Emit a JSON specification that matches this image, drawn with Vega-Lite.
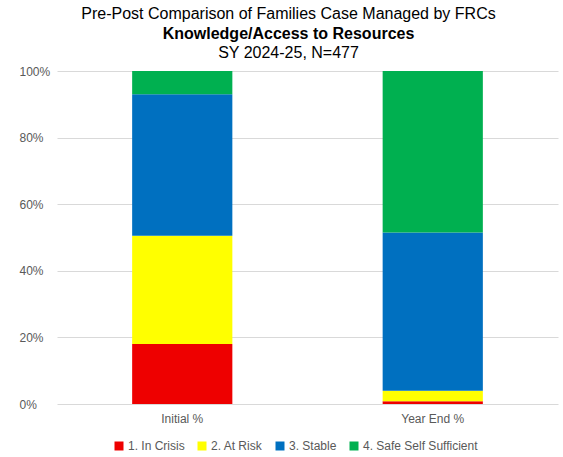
{
  "$schema": "https://vega.github.io/schema/vega-lite/v6.json",
  "padding": {"left": 19, "top": 6, "right": 5, "bottom": 2},
  "background": "white",
  "title": {
    "text": "Pre-Post Comparison of Families Case Managed by FRCs",
    "subtitle": "Knowledge/Access to Resources",
    "font": "Liberation Sans",
    "fontSize": 16,
    "fontWeight": "normal",
    "color": "#000000",
    "subtitleFont": "Liberation Sans",
    "subtitleFontSize": 16,
    "subtitleFontWeight": "bold",
    "subtitleColor": "#000000",
    "subtitlePadding": 4,
    "anchor": "middle",
    "frame": "bounds",
    "offset": 3
  },
  "vconcat": [
    {
      "title": {
        "text": "SY 2024-25, N=477",
        "font": "Liberation Sans",
        "fontSize": 16,
        "fontWeight": "normal",
        "color": "#000000",
        "anchor": "middle",
        "frame": "bounds",
        "offset": 4
      },
      "width": 501,
      "height": 333,
      "data": {
        "values": [
          {"period": "Initial %", "level": "1. In Crisis", "pct": 18.0},
          {"period": "Initial %", "level": "2. At Risk", "pct": 32.5},
          {"period": "Initial %", "level": "3. Stable", "pct": 42.5},
          {"period": "Initial %", "level": "4. Safe Self Sufficient", "pct": 7.0},
          {"period": "Year End %", "level": "1. In Crisis", "pct": 0.8},
          {"period": "Year End %", "level": "2. At Risk", "pct": 3.2},
          {"period": "Year End %", "level": "3. Stable", "pct": 47.5},
          {"period": "Year End %", "level": "4. Safe Self Sufficient", "pct": 48.5}
        ]
      },
      "mark": {"type": "bar"},
      "encoding": {
        "x": {
          "field": "period",
          "type": "nominal",
          "sort": ["Initial %", "Year End %"],
          "scale": {"paddingInner": 0.6, "paddingOuter": 0.3},
          "axis": {
            "title": null,
            "labelAngle": 0,
            "domain": false,
            "ticks": false,
            "labelPadding": 9,
            "labelFontSize": 12,
            "labelColor": "#595959",
            "labelFont": "Liberation Sans"
          }
        },
        "y": {
          "field": "pct",
          "type": "quantitative",
          "stack": "zero",
          "scale": {"domain": [0, 100], "nice": false},
          "axis": {
            "title": null,
            "values": [0, 20, 40, 60, 80, 100],
            "labelExpr": "datum.value + '%'",
            "domain": false,
            "ticks": false,
            "grid": true,
            "gridColor": "#d9d9d9",
            "gridWidth": 1,
            "labelAlign": "left",
            "labelPadding": 38,
            "labelFontSize": 12,
            "labelColor": "#595959",
            "labelFont": "Liberation Sans"
          }
        },
        "color": {
          "field": "level",
          "type": "nominal",
          "scale": {
            "domain": ["1. In Crisis", "2. At Risk", "3. Stable", "4. Safe Self Sufficient"],
            "range": ["#ee0000", "#ffff00", "#0070c0", "#00b050"]
          },
          "legend": {
            "title": null,
            "orient": "none",
            "legendX": 56,
            "legendY": 369,
            "direction": "horizontal",
            "symbolType": "square",
            "symbolSize": 81,
            "symbolStrokeWidth": 0,
            "labelFontSize": 12,
            "labelColor": "#595959",
            "labelFont": "Liberation Sans",
            "labelOffset": 3,
            "columnPadding": 11
          }
        },
        "order": {"field": "level", "sort": "ascending"}
      }
    }
  ],
  "config": {
    "font": "Liberation Sans",
    "view": {"stroke": null}
  }
}
